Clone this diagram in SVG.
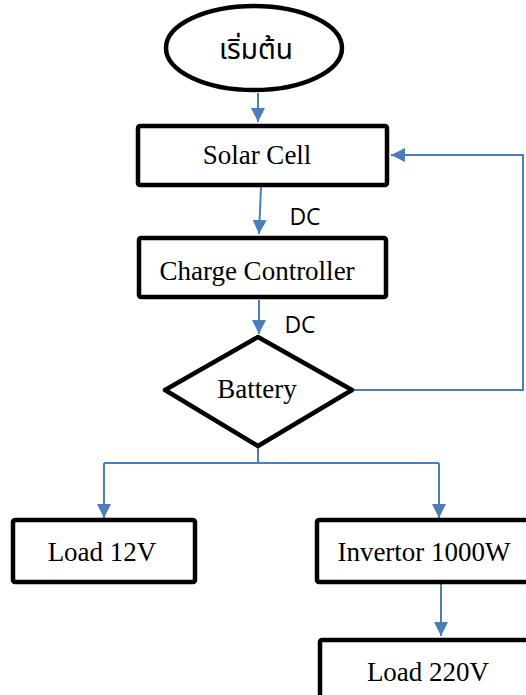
<svg xmlns="http://www.w3.org/2000/svg" width="526" height="695" viewBox="0 0 526 695">
<style>
.box{fill:#fff;stroke:#000;stroke-width:4.5;stroke-linejoin:round}
.lbl{font-family:"Liberation Serif","Times New Roman",serif;font-size:27px;fill:#000;text-anchor:middle}
.dc{font-family:"Open Sans","Noto Sans",sans-serif;font-size:23px;fill:#000;text-anchor:middle}
.ln{fill:none;stroke:#4A7EBB;stroke-width:2}
</style>
<defs>
<marker id="ah" viewBox="0 0 10 10" refX="10" refY="5" markerWidth="14" markerHeight="14" markerUnits="userSpaceOnUse" orient="auto">
<path d="M0,0 L10,5 L0,10 z" fill="#4A7EBB"/>
</marker>
</defs>
<rect width="526" height="695" fill="#fff"/>
<g id="connectors">
<line class="ln" x1="258" y1="93" x2="258" y2="122" marker-end="url(#ah)"/>
<line class="ln" x1="261" y1="187" x2="259" y2="234" marker-end="url(#ah)"/>
<line class="ln" x1="259" y1="300" x2="259" y2="334" marker-end="url(#ah)"/>
<polyline class="ln" points="352,390 523,390 523,155 391,155" marker-end="url(#ah)"/>
<polyline class="ln" points="258,447 258,463"/>
<polyline class="ln" points="104,463 439,463"/>
<line class="ln" x1="104" y1="463" x2="104" y2="518" marker-end="url(#ah)"/>
<line class="ln" x1="439" y1="463" x2="439" y2="518" marker-end="url(#ah)"/>
<line class="ln" x1="441" y1="584" x2="441" y2="636" marker-end="url(#ah)"/>
</g>
<g id="start">
<ellipse cx="254" cy="48" rx="88" ry="42" fill="#fff" stroke="#000" stroke-width="4.5"/>
<text x="256" y="59" font-family="'Noto Sans Thai','Noto Sans','DejaVu Sans',sans-serif" font-size="28" text-anchor="middle">เริ่มต้น</text>
</g>
<g id="solar">
<rect class="box" x="138" y="126" width="249" height="59" rx="2"/>
<text class="lbl" x="257" y="164">Solar Cell</text>
</g>
<text class="dc" x="305" y="225">DC</text>
<g id="charge">
<rect class="box" x="139" y="238" width="247" height="59" rx="2"/>
<text class="lbl" x="257" y="280">Charge Controller</text>
</g>
<text class="dc" x="300" y="333">DC</text>
<g id="battery">
<polygon class="box" points="258,337 352,390 258,446 165,390"/>
<text class="lbl" x="257" y="398">Battery</text>
</g>
<g id="load12">
<rect class="box" x="13" y="520" width="182" height="62" rx="2"/>
<text class="lbl" x="102" y="561">Load 12V</text>
</g>
<g id="invertor">
<rect class="box" x="317" y="520" width="230" height="62" rx="2"/>
<text class="lbl" x="424" y="561">Invertor 1000W</text>
</g>
<g id="load220">
<rect class="box" x="320" y="640" width="230" height="80" rx="2"/>
<text class="lbl" x="428" y="681">Load 220V</text>
</g>
</svg>
